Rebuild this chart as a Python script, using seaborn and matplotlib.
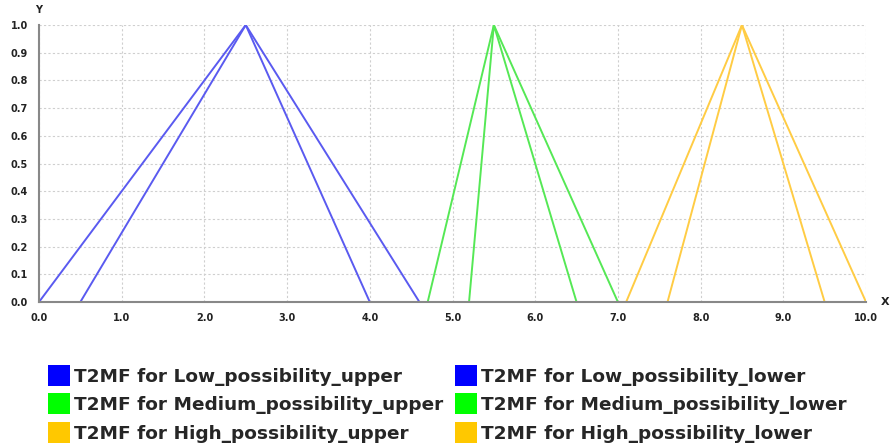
import matplotlib
matplotlib.use("Agg")
import matplotlib.pyplot as plt
import seaborn as sns
import pandas as pd
from matplotlib.patches import Patch

sns.set_theme(style="white")
plt.rcParams['font.family'] = ['DejaVu Sans']

# Data (membership function vertices)
low_upper_x = [0.0, 2.5, 4.6]
low_upper_y = [0.0, 1.0, 0.0]
low_lower_x = [0.0, 0.5, 2.5, 4.0, 4.6]
low_lower_y = [0.0, 0.0, 1.0, 0.0, 0.0]
med_upper_x = [4.7, 5.5, 7.0]
med_upper_y = [0.0, 1.0, 0.0]
med_lower_x = [4.7, 5.2, 5.5, 6.5, 7.0]
med_lower_y = [0.0, 0.0, 1.0, 0.0, 0.0]
high_upper_x = [7.1, 8.5, 10.0]
high_upper_y = [0.0, 1.0, 0.0]
high_lower_x = [7.1, 7.6, 8.5, 9.5, 10.0]
high_lower_y = [0.0, 0.0, 1.0, 0.0, 0.0]

labels = ["T2MF for Low_possibility_upper", "T2MF for Low_possibility_lower",
          "T2MF for Medium_possibility_upper", "T2MF for Medium_possibility_lower",
          "T2MF for High_possibility_upper", "T2MF for High_possibility_lower"]
x_ticks = [0.0, 1.0, 2.0, 3.0, 4.0, 5.0, 6.0, 7.0, 8.0, 9.0, 10.0]
y_ticks = [0.0, 0.1, 0.2, 0.3, 0.4, 0.5, 0.6, 0.7, 0.8, 0.9, 1.0]

series = [(low_upper_x, low_upper_y), (low_lower_x, low_lower_y),
          (med_upper_x, med_upper_y), (med_lower_x, med_lower_y),
          (high_upper_x, high_upper_y), (high_lower_x, high_lower_y)]
line_colors = ["#5a5af0", "#5a5af0", "#55e855", "#55e855", "#ffcc44", "#ffcc44"]
legend_colors = ["#0000ff", "#0000ff", "#00ff00", "#00ff00", "#ffc800", "#ffc800"]

fig = plt.figure(figsize=(8.91, 4.46), dpi=100)
ax = fig.add_axes([39/891, 1-302/446, (866-39)/891, (302-25)/446])

for (xs, ys), lab, col in zip(series, labels, line_colors):
    df = pd.DataFrame({"x": xs, "y": ys})
    sns.lineplot(data=df, x="x", y="y", ax=ax, color=col, sort=False,
                 estimator=None, linewidth=1.4, legend=False)

ax.set_xlim(0, 10)
ax.set_ylim(0, 1)
ax.set_xticks(x_ticks)
ax.set_yticks(y_ticks)
ax.set_xticklabels([f"{v:.1f}" for v in x_ticks], fontsize=7, fontweight="bold", color="#222222")
ax.set_yticklabels([f"{v:.1f}" for v in y_ticks], fontsize=7, fontweight="bold", color="#222222")
ax.tick_params(axis="x", length=0, pad=8)
ax.tick_params(axis="y", length=0, pad=8)
ax.set_xlabel("")
ax.set_ylabel("")
ax.grid(True, color="#cfcfcf", linestyle=(0, (2, 2)), linewidth=0.8)
for s in ["top", "right"]:
    ax.spines[s].set_visible(False)
for s in ["left", "bottom"]:
    ax.spines[s].set_color("#888888")
    ax.spines[s].set_linewidth(1.5)
ax.set_axisbelow(True)

fig.text(39/891, 1-10/446, "Y", fontsize=7, fontweight="bold", ha="center", va="center", color="#222222")
fig.text(885/891, 1-302/446, "X", fontsize=8, fontweight="bold", ha="center", va="center", color="#222222")

handles = [Patch(facecolor=c, edgecolor="none") for c in legend_colors]
leg_kw = dict(loc="upper left", frameon=False,
              prop={"family": "DejaVu Sans", "weight": "bold", "size": 13.3},
              handlelength=1.2, handleheight=1.35, handletextpad=0.2,
              labelspacing=0.42, borderaxespad=0, borderpad=0)
col1 = [0, 2, 4]
col2 = [1, 3, 5]
fig.legend([handles[i] for i in col1], [labels[i] for i in col1],
           bbox_to_anchor=(48/891, 1-365/446), **leg_kw)
fig.legend([handles[i] for i in col2], [labels[i] for i in col2],
           bbox_to_anchor=(455/891, 1-365/446), **leg_kw)

fig.savefig("out.png", dpi=100)
